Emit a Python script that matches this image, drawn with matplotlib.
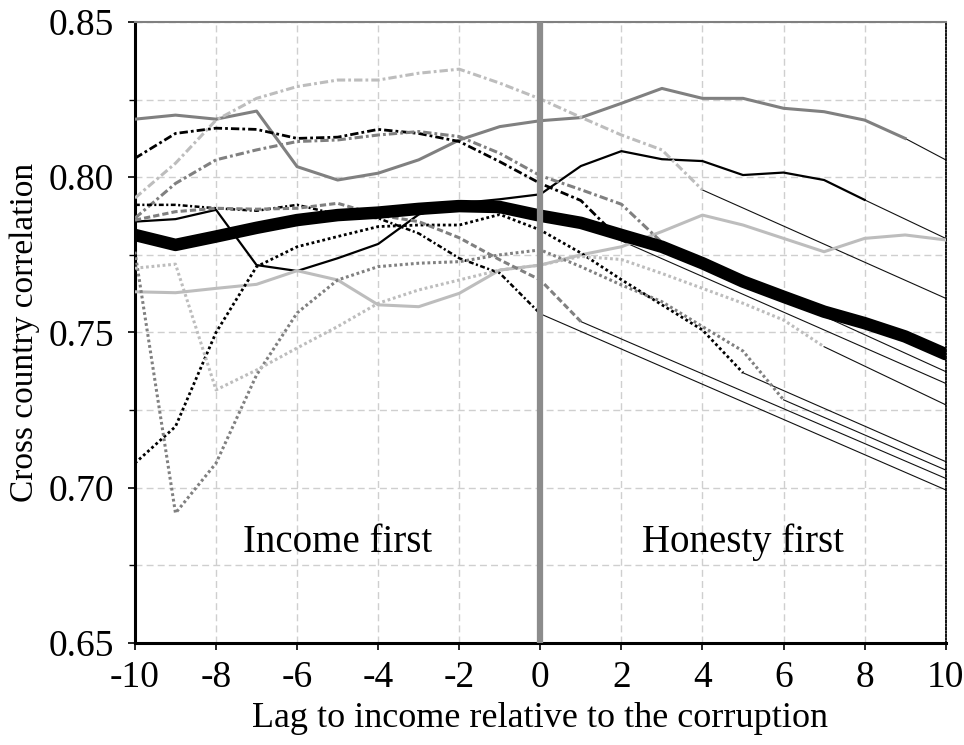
import numpy as np
import matplotlib
matplotlib.use("Agg")
import matplotlib.pyplot as plt
from matplotlib.ticker import MultipleLocator, FormatStrFormatter

plt.rcParams['font.family'] = ['Liberation Serif', 'DejaVu Serif']
plt.rcParams['axes.unicode_minus'] = False
plt.rcParams['lines.scale_dashes'] = False

nan = np.nan
lags = list(range(-10, 11))

mean_corr = [0.7814, 0.7782, 0.7809, 0.7837, 0.7862, 0.7878, 0.7886, 0.7898, 0.7907, 0.7904,
             0.7876, 0.7853, 0.7814, 0.7776, 0.7723, 0.7664, 0.7615, 0.7567, 0.7530, 0.7487, 0.7430]

gray_solid = [0.8187, 0.8200, 0.8187, 0.8213, 0.8034, 0.7991, 0.8013, 0.8056, 0.8120, 0.8163,
              0.8182, 0.8192, 0.8238, 0.8286, 0.8254, 0.8254, 0.8222, 0.8211, 0.8184, 0.8125, nan]
black_solid = [0.7857, 0.7865, 0.7895, 0.7717, 0.7698, 0.7739, 0.7785, 0.7880, 0.7916, 0.7929,
               0.7945, 0.8036, 0.8084, 0.8058, 0.8052, 0.8007, 0.8015, 0.7991, 0.7927, nan, nan]
light_solid = [0.7631, 0.7628, 0.7642, 0.7655, 0.7699, 0.7669, 0.7589, 0.7583, 0.7626, 0.7701,
               0.7717, 0.7750, 0.7776, 0.7825, 0.7878, 0.7846, 0.7803, 0.7760, 0.7803, 0.7814, 0.7798]
black_dashdot = [0.8061, 0.8141, 0.8158, 0.8154, 0.8125, 0.8129, 0.8154, 0.8141, 0.8115, 0.8050,
                 0.7980, 0.7925, 0.7795, nan, nan, nan, nan, nan, nan, nan, nan]
gray_dashdot = [0.7868, 0.7980, 0.8056, 0.8088, 0.8115, 0.8120, 0.8136, 0.8147, 0.8131, 0.8077,
                0.8005, 0.7960, 0.7913, 0.7790, nan, nan, nan, nan, nan, nan, nan]
light_dashdot = [0.7933, 0.8045, 0.8184, 0.8254, 0.8292, 0.8313, 0.8313, 0.8335, 0.8348, 0.8303,
                 0.8252, 0.8193, 0.8136, 0.8088, 0.7959, nan, nan, nan, nan, nan, nan]
black_shortdashdot = [0.7911, 0.7911, 0.7900, 0.7892, 0.7911, 0.7880, 0.7868, 0.7819, 0.7739, 0.7691,
                      0.7560, nan, nan, nan, nan, nan, nan, nan, nan, nan, nan]
black_dotted = [0.7079, 0.7197, 0.7500, 0.7712, 0.7776, 0.7809, 0.7841, 0.7846, 0.7846, 0.7880,
                0.7830, 0.7756, 0.7670, 0.7589, 0.7508, 0.7370, nan, nan, nan, nan, nan]
gray_dotted = [0.7760, 0.6918, 0.7079, 0.7363, 0.7563, 0.7669, 0.7712, 0.7723, 0.7728, 0.7750,
               0.7766, 0.7712, 0.7653, 0.7599, 0.7519, 0.7440, 0.7283, nan, nan, nan, nan]
light_dotted = [0.7707, 0.7720, 0.7315, 0.7379, 0.7450, 0.7519, 0.7594, 0.7637, 0.7669, 0.7701,
                0.7717, 0.7745, 0.7735, 0.7690, 0.7642, 0.7594, 0.7540, 0.7454, nan, nan, nan]
gray_dashed = [0.7862, 0.7889, 0.7900, 0.7897, 0.7900, 0.7916, 0.7878, 0.7857, 0.7805, 0.7734,
               0.7669, 0.7535, nan, nan, nan, nan, nan, nan, nan, nan, nan]

# value each thin continuation line reaches at lag 10 (None = series reaches 10 itself)
extension_end = {
    'gray_solid': 0.8056, 'black_solid': 0.7803, 'light_solid': None,
    'black_dashdot': 0.7336, 'gray_dashdot': 0.7374, 'light_dashdot': 0.7610,
    'black_shortdashdot': 0.6993, 'black_dotted': 0.7084, 'gray_dotted': 0.7057,
    'light_dotted': 0.7267, 'gray_dashed': 0.7030,
}

BLACK, GRAY, LIGHT = '#000000', '#808080', '#bdbdbd'
LONG_DD = (0, (6, 2.2, 2, 2.2))
SHORT_DD = (0, (3.5, 1.8, 1.5, 1.8))
DOT = (0, (2.0, 2.0))
DASH = (0, (4.5, 2.2))

series = [
    ('gray_solid', gray_solid, GRAY, '-', 2.2),
    ('black_solid', black_solid, BLACK, '-', 1.6),
    ('light_solid', light_solid, LIGHT, '-', 2.2),
    ('black_dashdot', black_dashdot, BLACK, LONG_DD, 2.0),
    ('gray_dashdot', gray_dashdot, GRAY, LONG_DD, 2.2),
    ('light_dashdot', light_dashdot, LIGHT, LONG_DD, 2.2),
    ('black_shortdashdot', black_shortdashdot, BLACK, SHORT_DD, 1.8),
    ('black_dotted', black_dotted, BLACK, DOT, 2.0),
    ('gray_dotted', gray_dotted, GRAY, DOT, 2.2),
    ('light_dotted', light_dotted, LIGHT, DOT, 2.2),
    ('gray_dashed', gray_dashed, GRAY, DASH, 2.2),
]

fig = plt.figure(figsize=(9.64, 7.45), dpi=100)
ax = fig.add_axes([0.140, 0.137, 0.841, 0.8335])

x = np.array(lags, dtype=float)
for name, vals, color, ls, lw in series:
    v = np.array(vals, dtype=float)
    ax.plot(x, v, color=color, linestyle=ls, linewidth=lw, zorder=3)
    end = extension_end[name]
    if end is not None:
        last = np.where(~np.isnan(v))[0][-1]
        ax.plot([x[last], x[-1]], [v[last], end], color='#111111', linewidth=0.8, zorder=2.5)

ax.plot(x, mean_corr, color='black', linewidth=9, solid_capstyle='round',
        solid_joinstyle='round', zorder=5)
ax.axvline(0, color='#8c8c8c', linewidth=4.5, zorder=6)

ax.set_xlim(-10, 10)
ax.set_ylim(0.65, 0.85)
ax.xaxis.set_major_locator(MultipleLocator(2))
ax.yaxis.set_major_locator(MultipleLocator(0.05))
ax.yaxis.set_minor_locator(MultipleLocator(0.025))
ax.yaxis.set_major_formatter(FormatStrFormatter('%.2f'))

ax.grid(True, which='major', axis='x', color='#cfcfcf', linestyle=(0, (5, 3)), linewidth=1.0, zorder=0)
ax.grid(True, which='both', axis='y', color='#cfcfcf', linestyle=(0, (5, 3)), linewidth=1.0, zorder=0)
ax.set_axisbelow(True)

for s in ('left', 'bottom'):
    ax.spines[s].set_linewidth(2.2)
    ax.spines[s].set_color('black')
ax.spines['top'].set_color('#808080')
ax.spines['top'].set_linewidth(1.5)
ax.spines['right'].set_linestyle((0, (1, 1.5)))
ax.spines['right'].set_linewidth(1.3)

ax.tick_params(axis='both', which='major', labelsize=27, length=5, width=1.2, direction='out')
ax.tick_params(axis='y', which='minor', length=4, width=1.0, direction='out')
ax.tick_params(axis='y', pad=10)
ax.tick_params(axis='x', pad=8)

ax.set_xlabel('Lag to income relative to the corruption', fontsize=26, labelpad=5)
ax.set_ylabel('Cross country correlation', fontsize=24, labelpad=6)

ax.text(-5, 0.6825, 'Income first', fontsize=28, ha='center', va='center', zorder=7)
ax.text(5, 0.6825, 'Honesty first', fontsize=28, ha='center', va='center', zorder=7)

fig.savefig('out.png', dpi=100)
